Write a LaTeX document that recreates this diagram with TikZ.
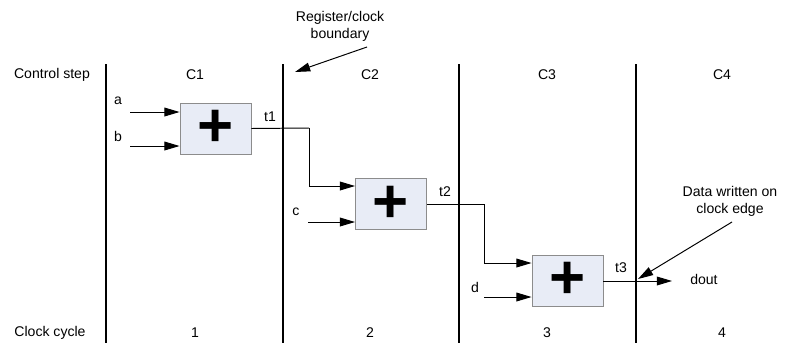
\documentclass[tikz,border=0pt]{standalone}
\usepackage{fontspec}
\setmainfont{Liberation Sans}
\usepackage{xcolor}
\usepackage{tikz}
\usetikzlibrary{arrows.meta, calc}
\definecolor{adderfill}{RGB}{232,236,246}

\begin{document}
\begin{tikzpicture}[
    x=0.025cm, y=-0.025cm,
    font=\fontsize{10}{12}\selectfont,
    adder/.style={rectangle, draw=black!45, fill=adderfill, minimum width=1.775cm, minimum height=1.275cm, inner sep=0pt, font=\fontsize{44}{44}\selectfont\bfseries, line width=0.6pt},
    lbl/.style={inner sep=0pt, align=center},
    arrow/.style={-{Triangle[length=0.38cm, width=0.22cm]}, line width=0.7pt, draw=black},
    wire/.style={line width=0.7pt, draw=black},
    boundary/.style={line width=1pt, draw=black},
]
\useasboundingbox (0,0) rectangle (801,343);

% clock boundaries
\foreach \bx in {106,283,459,636}
    \draw[boundary] (\bx,64) -- (\bx,343);

% row headings
\node[lbl] (step) at (52,75) {Control step};
\node[lbl] (cycle) at (50,333) {Clock cycle};
\foreach \lab/\cx [count=\i] in {C1/195,C2/370,C3/547,C4/722} {
    \node[lbl] (cs\i) at (\cx,75) {\lab};
    \node[lbl] (cc\i) at (\cx,333) {\i};
}

% adders
\node[adder] (add1) at (215.5,128.5) {+};
\node[adder] (add2) at (391,204) {+};
\node[adder] (add3) at (567.5,280.5) {+};

% inputs
\coordinate (ina) at (130,112);
\coordinate (inb) at (130,146);
\coordinate (inc) at (308,222);
\coordinate (ind) at (484,297);
\node[lbl] (la) at (118,101) {a};
\node[lbl] (lb) at (118,136) {b};
\node[lbl] (lc) at (296,212) {c};
\node[lbl] (ld) at (475,287) {d};

\draw[arrow] (ina) -- (ina -| add1.west);
\draw[arrow] (inb) -- (inb -| add1.west);
\draw[arrow] (inc) -- (inc -| add2.west);
\draw[arrow] (ind) -- (ind -| add3.west);

% temporaries
\coordinate (j1) at (309,128);
\coordinate (j2) at (484,204);
\coordinate (k2) at (356,186);
\coordinate (k3) at (532,263);
\coordinate (out) at (672,281);
\node[lbl] (lt1) at (270,117) {t1};
\node[lbl] (lt2) at (445,192) {t2};
\node[lbl] (lt3) at (621,268) {t3};
\node[lbl, anchor=west] (dout) at (690,279) {dout};

\draw[wire] (add1.east) -- (j1);
\draw[arrow] (j1) |- (k2 -| add2.west);
\draw[wire] (add2.east) -- (j2);
\draw[arrow] (j2) |- (k3 -| add3.west);
\draw[arrow] (add3.east |- out) -- (out);

% notes
\node[lbl] (reg) at (340,26) {Register/clock\\boundary};
\coordinate (regfrom) at (367,47);
\coordinate (regtip) at (295,72);
\draw[arrow] (regfrom) -- (regtip);

\node[lbl] (note) at (730,201) {Data written on\\clock edge};
\coordinate (notefrom) at (732,222);
\coordinate (notetip) at (638,279);
\draw[arrow] (notefrom) -- (notetip);
\end{tikzpicture}
\end{document}
